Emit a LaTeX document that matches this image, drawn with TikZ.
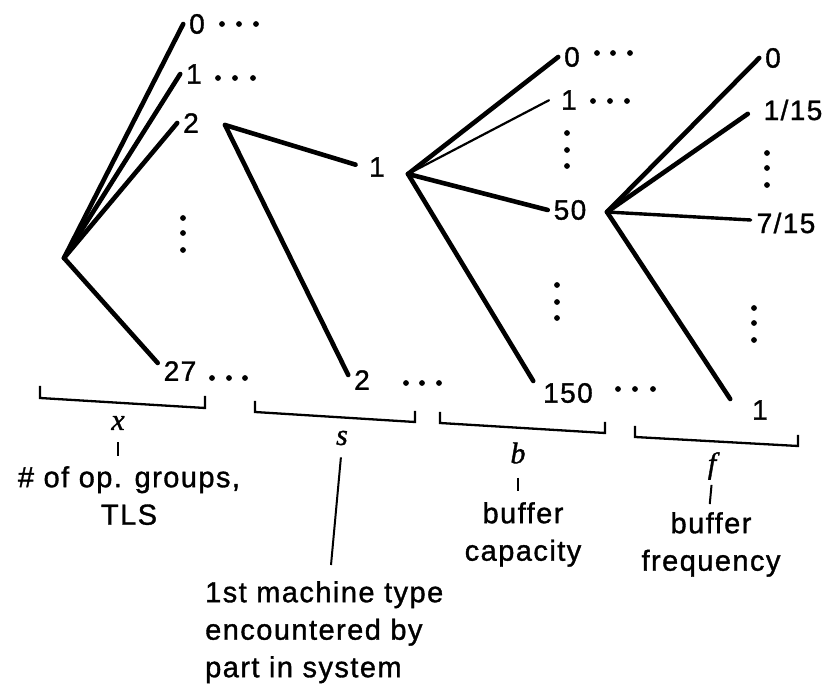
\documentclass[tikz,border=0pt]{standalone}
\usepackage{fontspec}
\setmainfont{Liberation Sans}[LetterSpace=5,FakeBold=1.2]
\newfontfamily\varfont{Liberation Serif}[FakeBold=1.2]
\begin{document}
\begin{tikzpicture}[x=1pt,y=-1pt,
  branch/.style={line width=4.6pt,line cap=round},
  midbranch/.style={line width=3.4pt,line cap=round},
  thinbranch/.style={line width=2.2pt,line cap=round},
  leaf/.style={inner xsep=6pt,inner ysep=0pt,outer sep=0pt,font=\fontsize{28}{30}\selectfont},
  varl/.style={inner sep=0pt,font=\varfont\itshape\fontsize{30}{30}\selectfont},
  desc/.style={inner sep=0pt,anchor=north,font=\fontsize{29}{37.5}\selectfont},
  brk/.style={line width=2.3pt,line join=miter},
  tk/.style={line width=2pt}]
\useasboundingbox (0,0) rectangle (825,692);

% tree 1
\coordinate (r1) at (64,258);
\node[leaf] (a0) at (197,24) {0};
\node[leaf] (a1) at (194,74) {1};
\node[leaf] (a2) at (191,123) {2};
\node[leaf] (a27) at (180,371) {27};
\draw[branch] (r1) -- (a0.west);
\draw[branch] (r1) -- (a1.west);
\draw[branch] (r1) -- (a2.west);
\draw[branch] (r1) -- ([yshift=8pt]a27.west);

% tree 2
\coordinate (r2) at (225,125);
\node[leaf] (b1) at (377,167) {1};
\node[leaf] (b2) at (362,380) {2};
\draw[branch,shorten >=8pt] (r2) -- (b1.west);
\draw[branch] (r2) -- ([yshift=5pt]b2.west);

% tree 3
\coordinate (r3) at (408,174);
\node[leaf] (c0) at (572,57) {0};
\node[leaf] (c1) at (569,100) {1};
\node[leaf] (c50) at (570,210) {50};
\node[leaf] (c150) at (568,393) {150};
\draw[branch] (r3) -- (c0.west);
\draw[thinbranch,shorten >=7pt] (r3) -- ([yshift=3pt]c1.west);
\draw[branch] (r3) -- (c50.west);
\draw[branch] (r3) -- ([shift={(-4pt,12pt)}]c150.west);

% tree 4
\coordinate (r4) at (607,212);
\node[leaf] (d0) at (773,58) {0};
\node[leaf] (d1) at (793,110) {1/15};
\node[leaf] (d7) at (786,223) {7/15};
\node[leaf] (dn) at (760,410) {1};
\draw[branch] (r4) -- (d0.west);
\draw[branch,shorten >=12pt] (r4) -- ([yshift=3pt]d1.west);
\draw[midbranch] (r4) -- ([yshift=3pt]d7.west);
\draw[branch] (r4) -- ([shift={(-16pt,11pt)}]dn.west);

% horizontal dots
\foreach \x/\y in {222/24,239/24,256/24, 218/78,235/78,253/78, 212/378,229/378,245/378,
  406/383,422/383,439/383, 597/53,613/53,630/53, 593/101,610/101,627/101,
  618/389,635/389,653/389}
  \fill (\x,\y) circle (2.9pt);
% vertical dots
\foreach \x/\y in {183/218,183/233,183/250, 567/133,567/150,567/166, 557/285,557/302,557/318,
  767/153,767/168,767/185, 754/308,754/323,754/340}
  \fill (\x,\y) circle (2.9pt);

% brackets
\draw[brk] (40,386) -- (40,398) -- (205,408) -- (205,396);
\draw[brk] (255,401) -- (255,412) -- (415,422) -- (415,411);
\draw[brk] (440,412) -- (440,423) -- (605,433) -- (605,422);
\draw[brk] (635,426) -- (635,437) -- (798,446) -- (798,435);

% variable names
\node[varl] (vx) at (118,423) {x};
\node[varl] (vs) at (342,438) {s};
\node[varl] (vb) at (518,453) {b};
\node[varl] (vf) at (712,466) {f};

% descriptions
\node[desc,align=center] (dx) at (129,466) {\# of op. groups,\\TLS};
\node[desc,anchor=north west,align=left] (m) at (205,581) {1st machine type\\encountered by\\part in system};
\node[desc,align=center] (db) at (523,502) {buffer\\capacity};
\node[desc,align=center] (df) at (711,512) {buffer\\frequency};

% ticks
\draw[tk,shorten <=12pt,shorten >=10pt] (vx.south) -- (vx.south |- dx.north);
\draw[tk,shorten <=12pt] (vs.south) -- ([shift={(126pt,16pt)}]m.north west);
\draw[tk,shorten <=14pt,shorten >=11pt] (vb.south) -- (vb.south |- db.north);
\draw[tk,shorten <=5pt,shorten >=8pt] (vf.south) -- ([xshift=-3pt]vf.south |- df.north);
\end{tikzpicture}
\end{document}
